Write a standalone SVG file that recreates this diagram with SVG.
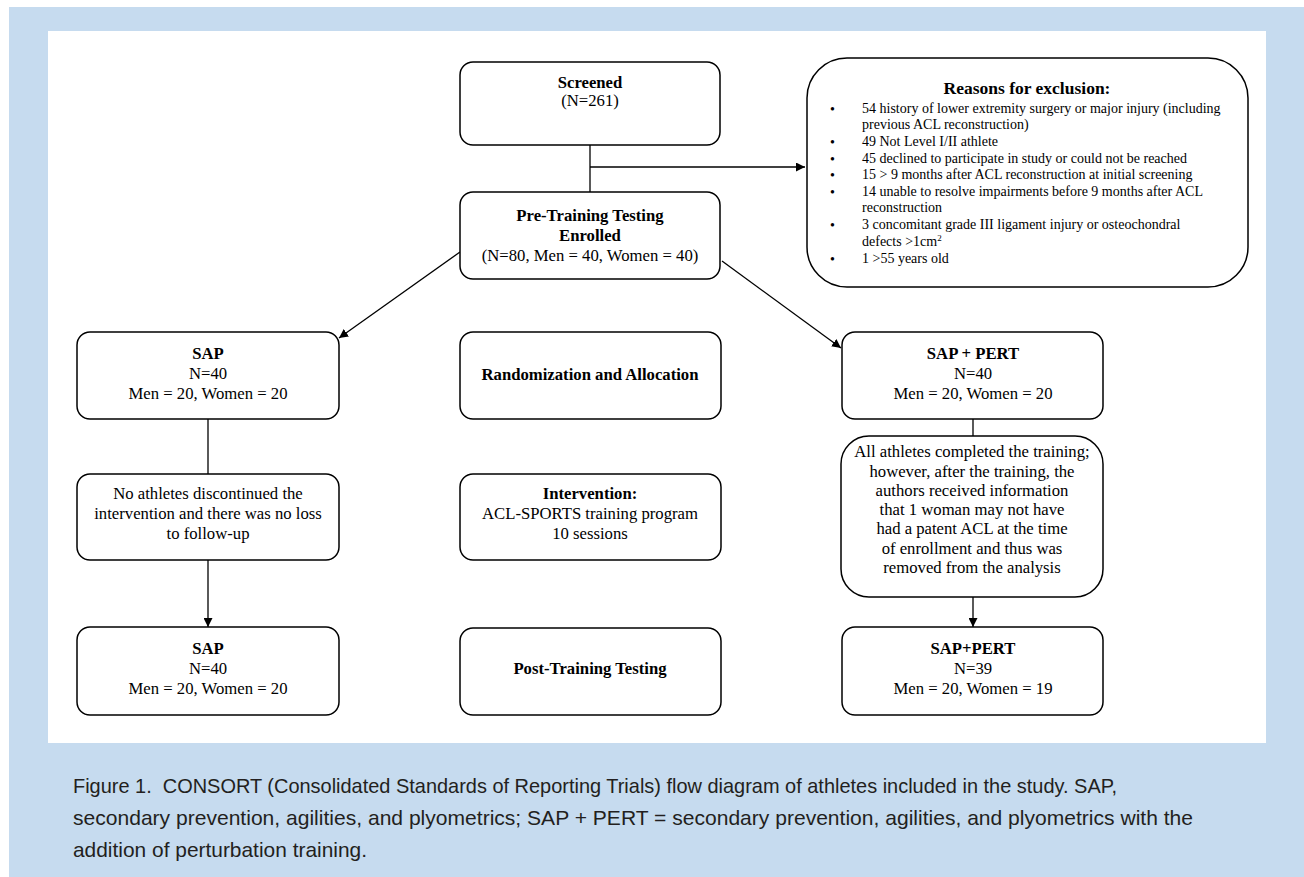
<svg xmlns="http://www.w3.org/2000/svg" width="1304" height="877" viewBox="0 0 1304 877">
<style>
.box{fill:#fff;stroke:#000;stroke-width:1.5}
.t{font-family:"Liberation Serif","Times New Roman",serif;font-size:16.7px;fill:#000;text-anchor:middle}
.b{font-weight:bold}
.ex{font-family:"Liberation Serif","Times New Roman",serif;font-size:14px;fill:#000}
.cap{font-family:"Liberation Sans Narrow","Liberation Sans",Arial,sans-serif;font-size:21px;fill:#231f20}
.ln{fill:none;stroke:#000;stroke-width:1.3}
</style>
<defs>
<marker id="ah" viewBox="0 0 10 10" refX="10" refY="5" markerWidth="9" markerHeight="9" markerUnits="userSpaceOnUse" orient="auto">
<path d="M0,0 L10,5 L0,10 Z" fill="#000"/>
</marker>
</defs>
<rect x="9" y="7" width="1295" height="870" fill="#c6dbef"/>
<rect x="48" y="31" width="1218" height="712" fill="#fff"/>

<g id="connectors">
<line class="ln" x1="590" y1="145" x2="590" y2="192"/>
<line class="ln" x1="590" y1="167" x2="805" y2="167" marker-end="url(#ah)"/>
<line class="ln" x1="460" y1="252" x2="339" y2="338" marker-end="url(#ah)"/>
<line class="ln" x1="722" y1="261" x2="841" y2="348" marker-end="url(#ah)"/>
<line class="ln" x1="208" y1="419" x2="208" y2="474"/>
<line class="ln" x1="208" y1="560" x2="208" y2="627" marker-end="url(#ah)"/>
<line class="ln" x1="973" y1="419" x2="973" y2="436"/>
<line class="ln" x1="973" y1="597" x2="973" y2="627" marker-end="url(#ah)"/>
</g>

<g id="screened">
<rect class="box" x="460" y="62" width="260" height="83" rx="13"/>
<text class="t b" x="590" y="88">Screened</text>
<text class="t" x="590" y="106">(N=261)</text>
</g>

<g id="exclusion">
<rect class="box" x="807" y="58" width="441" height="229" rx="40"/>
<text class="ex b" x="1027" y="94" text-anchor="middle" style="font-size:17.5px">Reasons for exclusion:</text>
<g class="ex">
<text x="830" y="114">•</text><text x="862" y="113">54 history of lower extremity surgery or major injury (including</text>
<text x="862" y="129">previous ACL reconstruction)</text>
<text x="830" y="147">•</text><text x="862" y="146">49 Not Level I/II athlete</text>
<text x="830" y="164">•</text><text x="862" y="163">45 declined to participate in study or could not be reached</text>
<text x="830" y="180">•</text><text x="862" y="179">15 &gt; 9 months after ACL reconstruction at initial screening</text>
<text x="830" y="197">•</text><text x="862" y="196">14 unable to resolve impairments before 9 months after ACL</text>
<text x="862" y="212">reconstruction</text>
<text x="830" y="230">•</text><text x="862" y="229">3 concomitant grade III ligament injury or osteochondral</text>
<text x="862" y="246">defects &gt;1cm<tspan dy="-5" style="font-size:9px">2</tspan></text>
<text x="830" y="264">•</text><text x="862" y="263">1 &gt;55 years old</text>
</g>
</g>

<g id="pretraining">
<rect class="box" x="460" y="192" width="260" height="87" rx="13"/>
<text class="t b" x="590" y="221">Pre-Training Testing</text>
<text class="t b" x="590" y="241">Enrolled</text>
<text class="t" x="590" y="261">(N=80, Men = 40, Women = 40)</text>
</g>

<g id="sap1">
<rect class="box" x="77" y="332" width="262" height="87" rx="13"/>
<text class="t b" x="208" y="359">SAP</text>
<text class="t" x="208" y="379">N=40</text>
<text class="t" x="208" y="399">Men = 20, Women = 20</text>
</g>

<g id="randomization">
<rect class="box" x="460" y="332" width="261" height="87" rx="13"/>
<text class="t b" x="590" y="380">Randomization and Allocation</text>
</g>

<g id="sappert1">
<rect class="box" x="842" y="332" width="261" height="87" rx="13"/>
<text class="t b" x="973" y="359">SAP + PERT</text>
<text class="t" x="973" y="379">N=40</text>
<text class="t" x="973" y="399">Men = 20, Women = 20</text>
</g>

<g id="note-left">
<rect class="box" x="77" y="474" width="262" height="86" rx="13"/>
<text class="t" x="208" y="499">No athletes discontinued the</text>
<text class="t" x="208" y="519">intervention and there was no loss</text>
<text class="t" x="208" y="539">to follow-up</text>
</g>

<g id="intervention">
<rect class="box" x="460" y="474" width="261" height="86" rx="13"/>
<text class="t b" x="590" y="499">Intervention:</text>
<text class="t" x="590" y="519">ACL-SPORTS training program</text>
<text class="t" x="590" y="539">10 sessions</text>
</g>

<g id="note-right">
<rect class="box" x="841" y="436" width="262" height="161" rx="28"/>
<text class="t" x="972" y="457">All athletes completed the training;</text>
<text class="t" x="972" y="477">however, after the training, the</text>
<text class="t" x="972" y="496">authors received information</text>
<text class="t" x="972" y="515">that 1 woman may not have</text>
<text class="t" x="972" y="534">had a patent ACL at the time</text>
<text class="t" x="972" y="554">of enrollment and thus was</text>
<text class="t" x="972" y="573">removed from the analysis</text>
</g>

<g id="sap2">
<rect class="box" x="77" y="627" width="262" height="88" rx="13"/>
<text class="t b" x="208" y="654">SAP</text>
<text class="t" x="208" y="674">N=40</text>
<text class="t" x="208" y="694">Men = 20, Women = 20</text>
</g>

<g id="posttraining">
<rect class="box" x="460" y="628" width="261" height="87" rx="13"/>
<text class="t b" x="590" y="674">Post-Training Testing</text>
</g>

<g id="sappert2">
<rect class="box" x="842" y="627" width="261" height="88" rx="13"/>
<text class="t b" x="973" y="654">SAP+PERT</text>
<text class="t" x="973" y="674">N=39</text>
<text class="t" x="973" y="694">Men = 20, Women = 19</text>
</g>

<g id="caption" class="cap">
<text x="73" y="793" textLength="1044" lengthAdjust="spacingAndGlyphs" xml:space="preserve">Figure 1.  CONSORT (Consolidated Standards of Reporting Trials) flow diagram of athletes included in the study. SAP,</text>
<text x="73" y="825" textLength="1120" lengthAdjust="spacingAndGlyphs">secondary prevention, agilities, and plyometrics; SAP + PERT = secondary prevention, agilities, and plyometrics with the</text>
<text x="73" y="857" textLength="294" lengthAdjust="spacingAndGlyphs">addition of perturbation training.</text>
</g>
</svg>
